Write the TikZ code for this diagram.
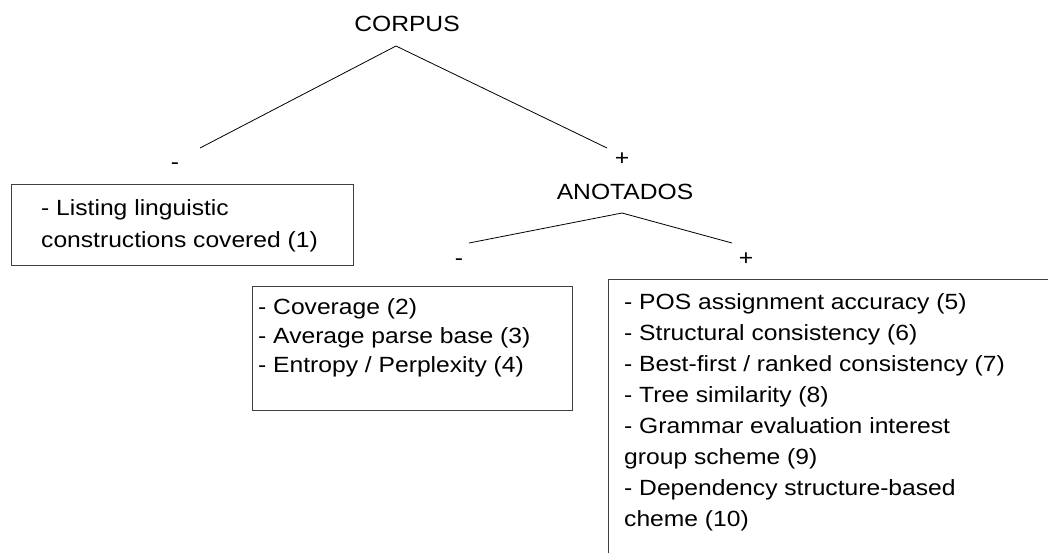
\documentclass[tikz,border=0pt]{standalone}
\usepackage{fontspec}
\setmainfont{Liberation Sans}[FakeStretch=1.12]
\begin{document}
\begin{tikzpicture}[x=1pt,y=-1pt,
  lbl/.style={inner sep=0pt,anchor=base,font=\fontsize{22}{26}\selectfont},
  boxtext/.style={inner sep=0pt,anchor=base west,align=left},
  frame/.style={draw=black!75,line width=0.9pt,inner sep=0pt,anchor=north west,rectangle},
  branch/.style={draw=black,line width=0.8pt}]
\useasboundingbox (0,0) rectangle (1048,552);
\clip (0,0) rectangle (1048,552);
% labels
\node[lbl] (corpus) at (407,31) {CORPUS};
\node[lbl] (minus1) at (175,169) {-};
\node[lbl] (plus1) at (622,165) {+};
\node[lbl] (anotados) at (625,199) {ANOTADOS};
\node[lbl] (minus2) at (459,265) {-};
\node[lbl] (plus2) at (746,265) {+};
% branch points
\coordinate (capex) at (396,46);
\coordinate (cl) at (200,148);
\coordinate (cr) at (607,148);
\coordinate (aapex) at (622,213);
\coordinate (al) at (469,243);
\coordinate (ar) at (732,243);
\draw[branch] (cl) -- (capex) -- (cr);
\draw[branch] (al) -- (aapex) -- (ar);
% boxes (text anchored at the baseline of its last line)
\node[frame,minimum width=342pt,minimum height=81pt] (box1) at (11,184) {};
\node[boxtext,font=\fontsize{22}{32}\selectfont] (t1) at (41,247)
  {- Listing linguistic\\constructions covered (1)};
\node[frame,minimum width=320pt,minimum height=124pt] (box2) at (252,286) {};
\node[boxtext,font=\fontsize{22}{29}\selectfont] (t2) at (258,372)
  {- Coverage (2)\\- Average parse base (3)\\- Entropy / Perplexity (4)};
\node[frame,minimum width=480pt,minimum height=320pt] (box3) at (608,279) {};
\node[boxtext,font=\fontsize{22}{31}\selectfont] (t3) at (624,526)
  {- POS assignment accuracy (5)\\- Structural consistency (6)\\- Best-first / ranked consistency (7)\\- Tree similarity (8)\\- Grammar evaluation interest\\group scheme (9)\\- Dependency structure-based\\cheme (10)};
\end{tikzpicture}
\end{document}
